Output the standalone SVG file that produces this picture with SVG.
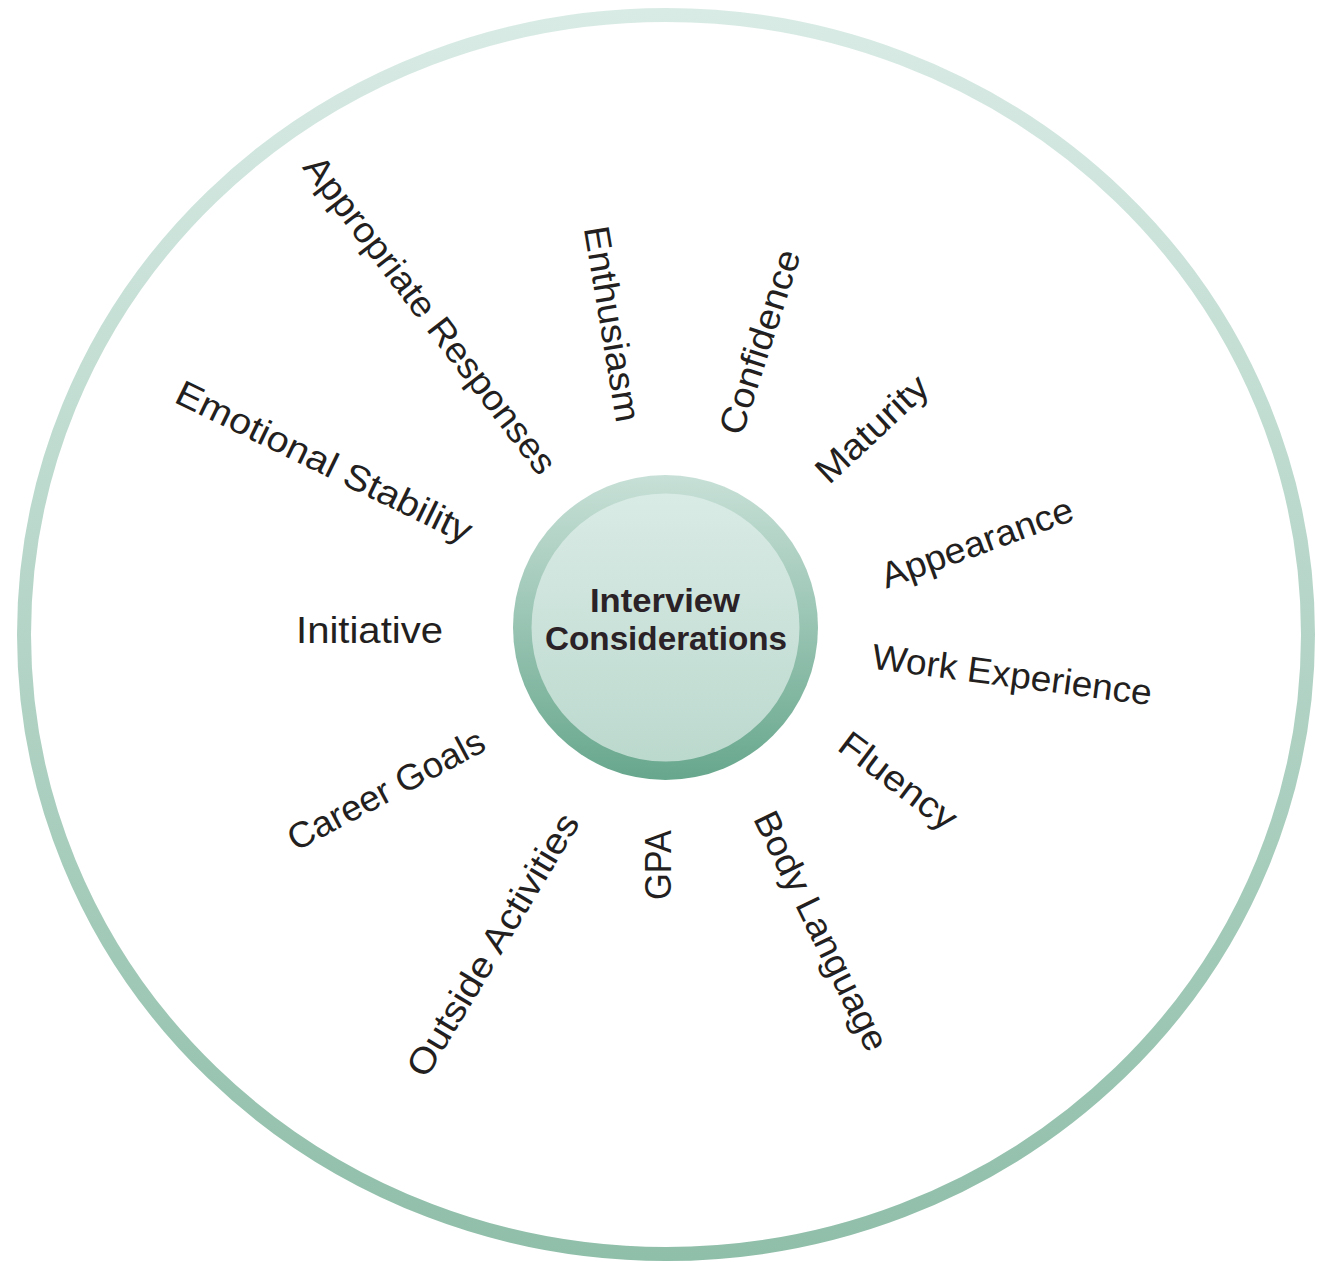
<svg xmlns="http://www.w3.org/2000/svg" width="1320" height="1262" viewBox="0 0 1320 1262">
<style>
.lbl{font-family:"Liberation Sans",Arial,sans-serif;font-size:36px;fill:#231f20;text-anchor:middle}
.ctr{font-family:"Liberation Sans",Arial,sans-serif;font-size:33px;font-weight:bold;fill:#2a2226;text-anchor:middle}
</style>
<defs>
<linearGradient id="outerG" gradientUnits="userSpaceOnUse" x1="0" y1="8" x2="0" y2="1261">
<stop offset="0" stop-color="#d9ebe5"/>
<stop offset="1" stop-color="#8fbea9"/>
</linearGradient>
<linearGradient id="ringG" x1="0" y1="0" x2="0" y2="1">
<stop offset="0" stop-color="#c8e0d7"/>
<stop offset="1" stop-color="#67a78d"/>
</linearGradient>
<linearGradient id="fillG" x1="0" y1="0" x2="0" y2="1">
<stop offset="0" stop-color="#d9ebe5"/>
<stop offset="1" stop-color="#bcd9ce"/>
</linearGradient>
</defs>
<rect width="1320" height="1262" fill="#ffffff"/>
<g id="outer-ring">
<ellipse cx="666" cy="634.5" rx="642" ry="619.5" fill="none" stroke="url(#outerG)" stroke-width="14"/>
</g>
<g id="connectors"/>
<g id="center">
<circle cx="665.5" cy="627.5" r="152.5" fill="url(#ringG)"/>
<circle cx="665.5" cy="627.5" r="134" fill="url(#fillG)"/>
<text class="ctr" x="665" y="612" textLength="150" lengthAdjust="spacingAndGlyphs">Interview</text>
<text class="ctr" x="666" y="650" textLength="242" lengthAdjust="spacingAndGlyphs">Considerations</text>
</g>
<g id="appropriate-responses"><text class="lbl" transform="translate(430,315) rotate(52.5)" x="0" y="12" textLength="390" lengthAdjust="spacingAndGlyphs">Appropriate Responses</text></g>
<g id="enthusiasm"><text class="lbl" transform="translate(612,324) rotate(80.5)" x="0" y="12" textLength="198" lengthAdjust="spacingAndGlyphs">Enthusiasm</text></g>
<g id="confidence"><text class="lbl" transform="translate(760,342) rotate(-72)" x="0" y="12" textLength="192" lengthAdjust="spacingAndGlyphs">Confidence</text></g>
<g id="maturity"><text class="lbl" transform="translate(872,429) rotate(-43)" x="0" y="12" textLength="140" lengthAdjust="spacingAndGlyphs">Maturity</text></g>
<g id="appearance"><text class="lbl" transform="translate(977,543) rotate(-20)" x="0" y="12" textLength="202" lengthAdjust="spacingAndGlyphs">Appearance</text></g>
<g id="work-experience"><text class="lbl" transform="translate(1012,675) rotate(7.5)" x="0" y="12" textLength="282" lengthAdjust="spacingAndGlyphs">Work Experience</text></g>
<g id="fluency"><text class="lbl" transform="translate(898,781) rotate(37)" x="0" y="12" textLength="138" lengthAdjust="spacingAndGlyphs">Fluency</text></g>
<g id="body-language"><text class="lbl" transform="translate(821,931) rotate(64)" x="0" y="12" textLength="262" lengthAdjust="spacingAndGlyphs">Body Language</text></g>
<g id="gpa"><text class="lbl" transform="translate(659,865) rotate(-90)" x="0" y="12" textLength="70" lengthAdjust="spacingAndGlyphs">GPA</text></g>
<g id="outside-activities"><text class="lbl" transform="translate(493,945) rotate(-59)" x="0" y="12" textLength="300" lengthAdjust="spacingAndGlyphs">Outside Activities</text></g>
<g id="career-goals"><text class="lbl" transform="translate(386,790) rotate(-28)" x="0" y="12" textLength="218" lengthAdjust="spacingAndGlyphs">Career Goals</text></g>
<g id="initiative"><text class="lbl" x="369.5" y="643" textLength="147" lengthAdjust="spacingAndGlyphs">Initiative</text></g>
<g id="emotional-stability"><text class="lbl" transform="translate(324,462) rotate(26)" x="0" y="12" textLength="325" lengthAdjust="spacingAndGlyphs">Emotional Stability</text></g>
</svg>
